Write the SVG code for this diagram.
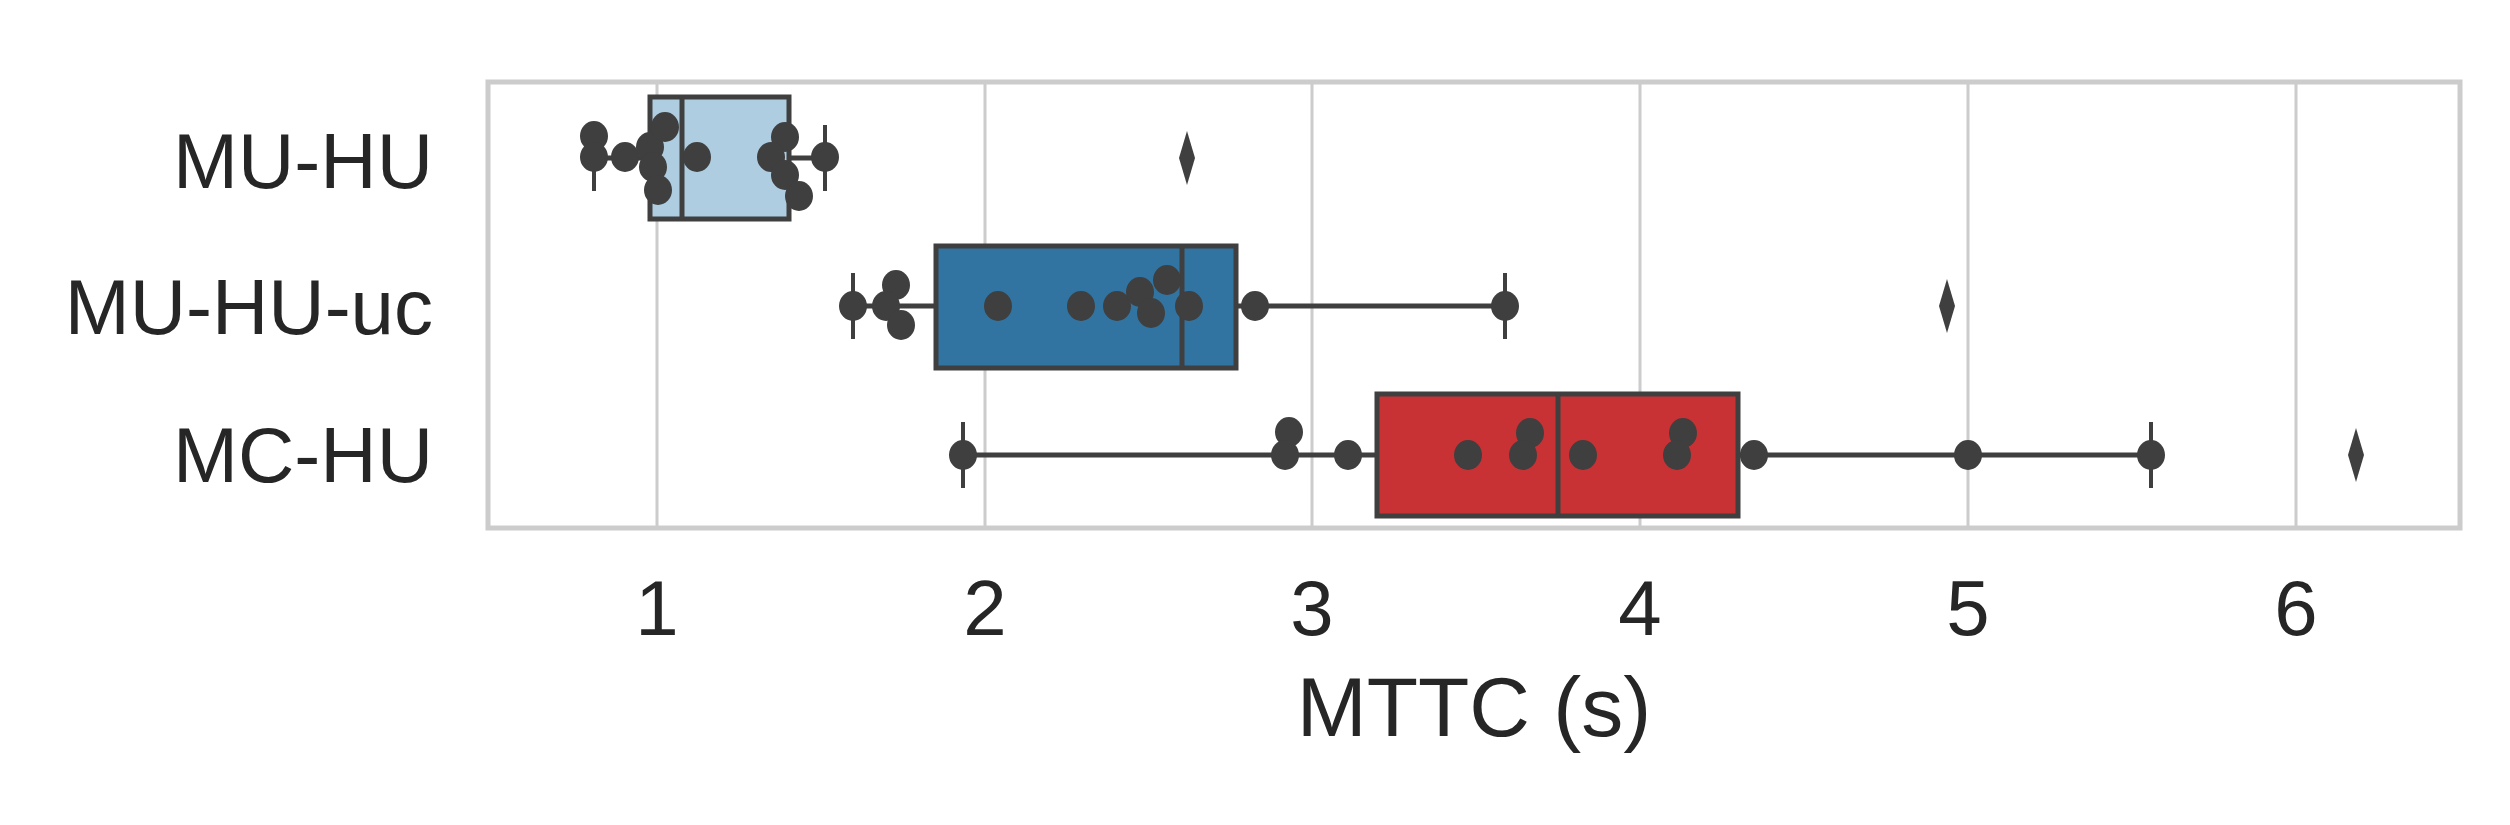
<svg xmlns="http://www.w3.org/2000/svg" width="2510" height="825" viewBox="0 0 2510 825">
<style>
.grid{stroke:#cccccc;stroke-width:3}
.frame{fill:none;stroke:#cccccc;stroke-width:5}
.box{stroke:#3f3f3f;stroke-width:5}
.ln{stroke:#3f3f3f;stroke-width:5;fill:none}
.cap{stroke:#3f3f3f;stroke-width:4}
.pt{fill:#3f3f3f}
.t{font-family:"Liberation Sans",Arial,sans-serif;fill:#262626;font-size:78px}
</style>
<rect width="2510" height="825" fill="#fff"/>
<g id="grid">
<line class="grid" x1="657" y1="83" x2="657" y2="528"/>
<line class="grid" x1="985" y1="83" x2="985" y2="528"/>
<line class="grid" x1="1312" y1="83" x2="1312" y2="528"/>
<line class="grid" x1="1640" y1="83" x2="1640" y2="528"/>
<line class="grid" x1="1968" y1="83" x2="1968" y2="528"/>
<line class="grid" x1="2296" y1="83" x2="2296" y2="528"/>
<rect class="frame" x="488" y="82" width="1972" height="446"/>
</g>
<g id="connectors">
<line class="ln" x1="594" y1="158" x2="650" y2="158"/>
<line class="ln" x1="789" y1="158" x2="825" y2="158"/>
<line class="cap" x1="594" y1="125" x2="594" y2="191"/>
<line class="cap" x1="825" y1="125" x2="825" y2="191"/>
<line class="ln" x1="853" y1="306" x2="936" y2="306"/>
<line class="ln" x1="1236" y1="306" x2="1505" y2="306"/>
<line class="cap" x1="853" y1="273" x2="853" y2="339"/>
<line class="cap" x1="1505" y1="273" x2="1505" y2="339"/>
<line class="ln" x1="963" y1="455" x2="1377" y2="455"/>
<line class="ln" x1="1738" y1="455" x2="2151" y2="455"/>
<line class="cap" x1="963" y1="422" x2="963" y2="488"/>
<line class="cap" x1="2151" y1="422" x2="2151" y2="488"/>
</g>
<g id="box-mu-hu">
<rect class="box" x="650" y="97" width="139" height="122" fill="#aecde1"/>
<line class="ln" x1="682" y1="97" x2="682" y2="219"/>
</g>
<g id="box-mu-hu-uc">
<rect class="box" x="936" y="246" width="300" height="122" fill="#3274a1"/>
<line class="ln" x1="1182" y1="246" x2="1182" y2="368"/>
</g>
<g id="box-mc-hu">
<rect class="box" x="1377" y="394" width="361" height="122" fill="#c83235"/>
<line class="ln" x1="1558" y1="394" x2="1558" y2="516"/>
</g>
<g id="outliers" class="pt">
<path d="M1187 131 L1195 158 L1187 185 L1179 158 Z"/>
<path d="M1947 279 L1955 306 L1947 333 L1939 306 Z"/>
<path d="M2356 428 L2364 455 L2356 482 L2348 455 Z"/>
</g>
<g id="points" class="pt">
<ellipse cx="594" cy="136" rx="14" ry="15"/><ellipse cx="594" cy="157" rx="14" ry="15"/><ellipse cx="625" cy="157" rx="14" ry="15"/><ellipse cx="650" cy="147" rx="14" ry="15"/><ellipse cx="665" cy="127" rx="14" ry="15"/><ellipse cx="653" cy="167" rx="14" ry="15"/><ellipse cx="658" cy="190" rx="14" ry="15"/><ellipse cx="697" cy="157" rx="14" ry="15"/><ellipse cx="785" cy="137" rx="14" ry="15"/><ellipse cx="771" cy="157" rx="14" ry="15"/><ellipse cx="785" cy="175" rx="14" ry="15"/><ellipse cx="799" cy="196" rx="14" ry="15"/><ellipse cx="825" cy="157" rx="14" ry="15"/>
<ellipse cx="853" cy="306" rx="14" ry="15"/><ellipse cx="896" cy="285" rx="14" ry="15"/><ellipse cx="886" cy="306" rx="14" ry="15"/><ellipse cx="901" cy="325" rx="14" ry="15"/><ellipse cx="998" cy="306" rx="14" ry="15"/><ellipse cx="1081" cy="306" rx="14" ry="15"/><ellipse cx="1117" cy="306" rx="14" ry="15"/><ellipse cx="1140" cy="292" rx="14" ry="15"/><ellipse cx="1167" cy="280" rx="14" ry="15"/><ellipse cx="1151" cy="313" rx="14" ry="15"/><ellipse cx="1189" cy="306" rx="14" ry="15"/><ellipse cx="1255" cy="306" rx="14" ry="15"/><ellipse cx="1505" cy="306" rx="14" ry="15"/>
<ellipse cx="963" cy="455" rx="14" ry="15"/><ellipse cx="1289" cy="432" rx="14" ry="15"/><ellipse cx="1285" cy="455" rx="14" ry="15"/><ellipse cx="1348" cy="455" rx="14" ry="15"/><ellipse cx="1468" cy="455" rx="14" ry="15"/><ellipse cx="1530" cy="433" rx="14" ry="15"/><ellipse cx="1523" cy="455" rx="14" ry="15"/><ellipse cx="1583" cy="455" rx="14" ry="15"/><ellipse cx="1683" cy="433" rx="14" ry="15"/><ellipse cx="1677" cy="455" rx="14" ry="15"/><ellipse cx="1754" cy="455" rx="14" ry="15"/><ellipse cx="1968" cy="455" rx="14" ry="15"/><ellipse cx="2151" cy="455" rx="14" ry="15"/>
</g>
<g id="labels" class="t">
<text x="433" y="188" text-anchor="end">MU-HU</text>
<text x="433" y="334" text-anchor="end">MU-HU-uc</text>
<text x="433" y="482" text-anchor="end">MC-HU</text>
<g text-anchor="middle">
<text x="657" y="635">1</text><text x="985" y="635">2</text><text x="1312" y="635">3</text><text x="1640" y="635">4</text><text x="1968" y="635">5</text><text x="2296" y="635">6</text>
<text x="1474" y="736" font-size="84">MTTC (s)</text>
</g>
</g>
</svg>
